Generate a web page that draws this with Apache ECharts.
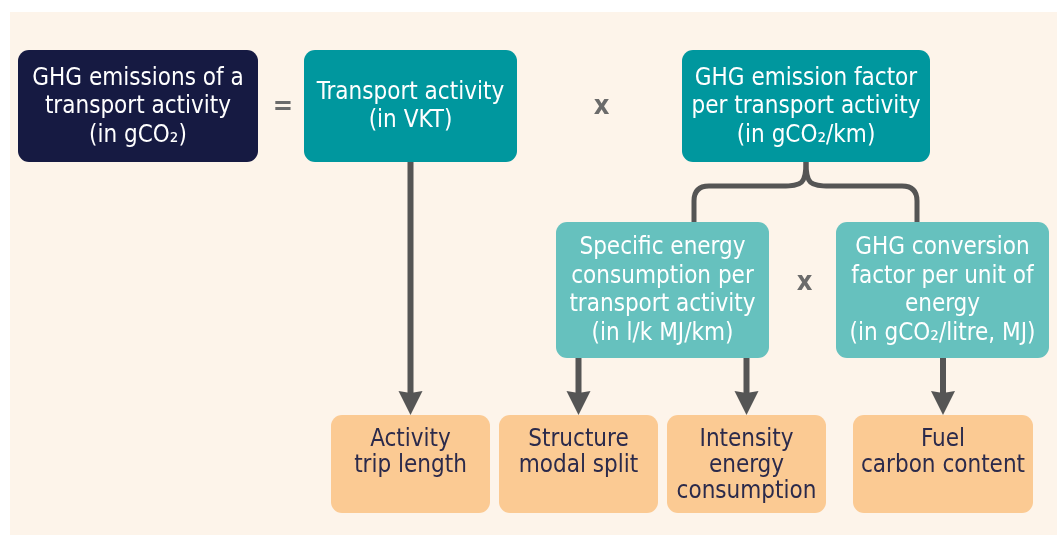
<!DOCTYPE html>
<html>
<head>
<meta charset="utf-8">
<script src="https://cdn.jsdelivr.net/npm/echarts@6/dist/echarts.min.js"></script>
<style>
  html, body { margin: 0; padding: 0; background: #fff; }
  #main { width: 1057px; height: 535px; }
</style>
</head>
<body>
<div id="main"></div>
<script>
// box texts, in reading order
const boxLabels = [
  'GHG emissions of a\ntransport activity\n(in gCO₂)',
  'Transport activity\n(in VKT)',
  'GHG emission factor\nper transport activity\n(in gCO₂/km)',
  'Specific energy\nconsumption per\ntransport activity\n(in l/k MJ/km)',
  'GHG conversion\nfactor per unit of\nenergy\n(in gCO₂/litre, MJ)',
  'Activity\ntrip length',
  'Structure\nmodal split',
  'Intensity\nenergy\nconsumption',
  'Fuel\ncarbon content'
]
const boxKinds = ['result', 'main', 'main', 'sub', 'sub', 'driver', 'driver', 'driver', 'driver']

// arrows: [from box, to box]
const arrowLinks = [[1, 5], [3, 6], [3, 7], [4, 8]]
// brace: [from box, left child, right child]
const braceLink = [2, 3, 4]
// operators between two boxes
const operators = [['=', 0, 1], ['x', 1, 2], ['x', 3, 4]]

// layout (pixels, x0 y0 x1 y1)
const boxLayout = [
  [18, 50, 258, 162],
  [304, 50, 517, 162],
  [682, 50, 930, 162],
  [556, 222, 769, 358],
  [836, 222, 1049, 358],
  [331, 415, 490, 513],
  [499, 415, 658, 513],
  [667, 415, 826, 513],
  [853, 415, 1033, 513]
]
const braceLegs = [694, 917]

const kindStyle = {
  result: { fill: '#161a42', color: '#ffffff', top: false },
  main: { fill: '#00979e', color: '#ffffff', top: false },
  sub: { fill: '#66c1be', color: '#ffffff', top: false },
  driver: { fill: '#fbca93', color: '#2b2a4b', top: true }
}
const FONT = '"DejaVu Sans Condensed", "Liberation Sans Narrow", Roboto, sans-serif'
const LINE = '#555555'

const boxData = boxLayout.map(b => b.slice())
const arrowData = arrowLinks.map(([f, t]) => {
  const tb = boxLayout[t]
  return [(tb[0] + tb[2]) / 2, boxLayout[f][3], tb[1]]
})
const braceData = [[
  (boxLayout[braceLink[0]][0] + boxLayout[braceLink[0]][2]) / 2,
  boxLayout[braceLink[0]][3],
  braceLegs[0], braceLegs[1],
  boxLayout[braceLink[1]][1]
]]
const opData = operators.map(([s, a, b]) => {
  const A = boxLayout[a], B = boxLayout[b]
  return [(A[2] + B[0]) / 2 + 2, (A[1] + A[3]) / 2 + (a === 3 ? -7 : 1)]
})

const chart = echarts.init(document.getElementById('main'))

function renderBox (params, api) {
  const p0 = api.coord([api.value(0), api.value(1)])
  const p1 = api.coord([api.value(2), api.value(3)])
  const st = kindStyle[boxKinds[params.dataIndex]]
  const n = boxLabels[params.dataIndex].split('\n').length
  const lh = st.top ? 26 : 28.5
  return {
    type: 'group',
    children: [
      {
        type: 'rect',
        shape: { x: p0[0], y: p0[1], width: p1[0] - p0[0], height: p1[1] - p0[1], r: 11 },
        style: { fill: st.fill }
      },
      {
        type: 'text',
        x: (p0[0] + p1[0]) / 2,
        y: st.top ? p0[1] + 12 : (p0[1] + p1[1]) / 2 - n * lh / 2 + 1,
        style: {
          text: boxLabels[params.dataIndex],
          fill: st.color,
          fontSize: 24,
          fontFamily: FONT,
          align: 'center',
          verticalAlign: 'top',
          lineHeight: lh
        }
      }
    ]
  }
}

function renderArrow (params, api) {
  const a = api.coord([api.value(0), api.value(1)])
  const b = api.coord([api.value(0), api.value(2)])
  const head = 24
  return {
    type: 'group',
    children: [
      {
        type: 'line',
        shape: { x1: a[0], y1: a[1], x2: b[0], y2: b[1] - head + 4 },
        style: { stroke: LINE, lineWidth: 6 }
      },
      {
        type: 'polygon',
        shape: { points: [[b[0] - 12, b[1] - head], [b[0], b[1] - head + 2], [b[0] + 12, b[1] - head], [b[0], b[1]]] },
        style: { fill: LINE }
      }
    ]
  }
}

function renderBrace (params, api) {
  const top = api.coord([api.value(0), api.value(1)])
  const left = api.coord([api.value(2), api.value(4)])
  const right = api.coord([api.value(3), api.value(4)])
  const cx = top[0], ty = top[1]
  const hy = ty + 24
  const r = 15
  const st = { stroke: LINE, lineWidth: 5, fill: null }
  const side = (x, dir) => [
    {
      type: 'bezierCurve',
      shape: { x1: cx, y1: ty, x2: cx + dir * 24, y2: hy, cpx1: cx, cpy1: hy - 2, cpx2: cx + dir * 4, cpy2: hy },
      style: st
    },
    {
      type: 'line',
      shape: { x1: cx + dir * 24, y1: hy, x2: x - dir * r, y2: hy },
      style: st
    },
    {
      type: 'bezierCurve',
      shape: { x1: x - dir * r, y1: hy, x2: x, y2: hy + r, cpx1: x, cpy1: hy },
      style: st
    },
    {
      type: 'line',
      shape: { x1: x, y1: hy + r, x2: x, y2: left[1] },
      style: st
    }
  ]
  return { type: 'group', children: side(left[0], -1).concat(side(right[0], 1)) }
}

function renderOp (params, api) {
  const p = api.coord([api.value(0), api.value(1)])
  return {
    type: 'text',
    x: p[0],
    y: p[1],
    style: {
      text: operators[params.dataIndex][0],
      fill: '#6b6b6b',
      fontSize: 27,
      fontWeight: 'bold',
      fontFamily: FONT,
      align: 'center',
      verticalAlign: 'middle'
    }
  }
}

const option = {
  animation: false,
  backgroundColor: '#ffffff',
  graphic: [
    {
      type: 'rect',
      z: -10,
      shape: { x: 10, y: 12, width: 1047, height: 523 },
      style: { fill: '#fdf4ea' }
    }
  ],
  grid: { left: 0, right: 0, top: 0, bottom: 0 },
  xAxis: { type: 'value', min: 0, max: 1057, show: false },
  yAxis: { type: 'value', min: 0, max: 535, inverse: true, show: false },
  series: [
    {
      name: 'brace',
      type: 'custom',
      renderItem: renderBrace,
      data: braceData,
      silent: true,
      z: 1
    },
    {
      name: 'arrows',
      type: 'custom',
      renderItem: renderArrow,
      data: arrowData,
      silent: true,
      z: 1
    },
    {
      name: 'boxes',
      type: 'custom',
      renderItem: renderBox,
      data: boxData,
      silent: true,
      z: 2
    },
    {
      name: 'operators',
      type: 'custom',
      renderItem: renderOp,
      data: opData,
      silent: true,
      z: 2
    }
  ]
}
chart.setOption(option)
</script>
</body>
</html>
